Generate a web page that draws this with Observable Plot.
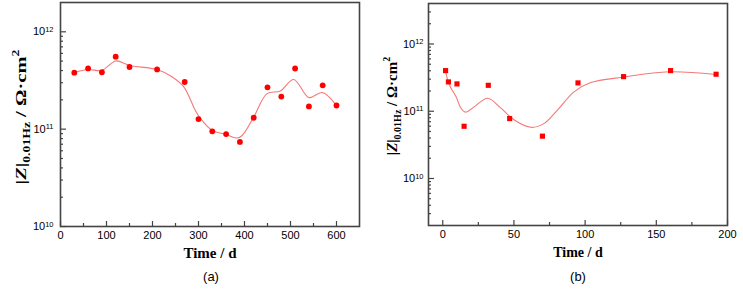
<!DOCTYPE html>
<html>
<head>
<meta charset="utf-8">
<script src="https://cdn.jsdelivr.net/npm/d3@7"></script>
<script src="https://cdn.jsdelivr.net/npm/@observablehq/plot@0.6"></script>
<style>
  html, body { margin: 0; padding: 0; background: #fff; }
  #wrap { position: relative; width: 743px; height: 289px; background: #fff; overflow: hidden; }
  .panel { position: absolute; top: 0; }
  .lab { position: absolute; white-space: nowrap; transform: translate(-50%, -50%); color: #000; }
  .xl { font-family: "Liberation Serif", "Times New Roman", serif; font-weight: bold; }
  .cap { font-family: "Liberation Sans", Arial, sans-serif; font-size: 13px; }
  .yl { font-family: "Liberation Serif", "Times New Roman", serif; font-weight: bold; font-size: 15px; }
  .yl .sb { font-size: 10px; vertical-align: -4px; }
  .yl .sp { font-size: 10px; vertical-align: 7px; }
</style>
</head>
<body>
<div id="wrap">
  <div id="pa" class="panel" style="left:0px"></div>
  <div id="pb" class="panel" style="left:370px"></div>
  <div class="lab xl" style="left:210px;top:253px;font-size:15px">Time / d</div>
  <div class="lab cap" style="left:211px;top:276px">(a)</div>
  <div class="lab xl" style="left:578px;top:253px;font-size:14px">Time / d</div>
  <div class="lab cap" style="left:578px;top:276px">(b)</div>
  <div class="lab yl" style="left:21px;top:117px;transform:translate(-50%,-50%) rotate(-90deg) scaleX(1.37)">|<i>Z</i>|<span class="sb">0.01Hz</span> / Ω·cm<span class="sp">2</span></div>
  <div class="lab yl" style="left:392px;top:106px;transform:translate(-50%,-50%) rotate(-90deg)">|<i>Z</i>|<span class="sb">0.01Hz</span> / Ω·cm<span class="sp">2</span></div>
</div>
<script>
// Panel (a): measured points
const aDays = [30, 60, 90, 120, 150, 210, 270, 300, 330, 360, 390, 420, 450, 480, 510, 540, 570, 600];
const aZ = [3.80e11, 4.21e11, 3.84e11, 5.55e11, 4.35e11, 4.11e11, 3.05e11, 1.27e11, 9.5e10, 8.9e10, 7.4e10, 1.31e11, 2.69e11, 2.16e11, 4.2e11, 1.71e11, 2.82e11, 1.75e11];
// Panel (a): smoothed curve
const aFitDays = [30, 60, 90, 120, 150, 210, 243, 268, 293, 304, 330, 359, 384, 395, 420, 449, 478, 507, 540, 569, 598];
const aFitZ = [3.82e11, 4.10e11, 4.01e11, 5.02e11, 4.51e11, 4.10e11, 3.44e11, 2.72e11, 1.56e11, 1.29e11, 9.7e10, 8.85e10, 8.1e10, 8.6e10, 1.33e11, 2.32e11, 2.47e11, 3.24e11, 2.11e11, 2.38e11, 1.80e11];

// Panel (b): measured points
const bDays = [2, 4, 10, 15, 32, 47, 70, 95, 127, 160, 192];
const bZ = [4.02e11, 2.73e11, 2.55e11, 5.98e10, 2.43e11, 7.78e10, 4.26e10, 2.64e11, 3.27e11, 4.02e11, 3.55e11];
// Panel (b): smoothed curve
const bFitDays = [2, 4.6, 9.3, 12.8, 15.9, 22.2, 31.6, 40.9, 50.3, 62, 71.3, 80.7, 92.4, 104, 126.3, 159, 191.8];
const bFitZ = [3.9e11, 2.47e11, 1.65e11, 1.11e11, 9.7e10, 1.17e11, 1.56e11, 1.11e11, 7.4e10, 5.77e10, 6.6e10, 1.05e11, 1.96e11, 2.67e11, 3.21e11, 3.86e11, 3.52e11];

// Axes
const aXMajor = [0, 100, 200, 300, 400, 500, 600];
const aXMinor = [50, 150, 250, 350, 450, 550];
const bXMajor = [0, 50, 100, 150, 200];
const bXMinor = [25, 75, 125, 175];
const aYMajor = [1e10, 1e11, 1e12];
const bYMajor = [1e10, 1e11, 1e12];
const mult = [2, 3, 4, 5, 6, 7, 8, 9];
const aYMinor = [1e10, 1e11].flatMap(d => mult.map(m => m * d));
const bYMinor = [1e9, 1e10, 1e11, 1e12].flatMap(d => mult.map(m => m * d)).filter(v => v > 2.05e9 && v < 3.95e12);

const frameColor = "#444";
const ptColor = "#ff0000";
const fitColor = "#f47878";

const aPts = aDays.map((d, i) => ({t: d, z: aZ[i]}));
const aFit = aFitDays.map((d, i) => ({t: d, z: aFitZ[i]}));
const bPts = bDays.map((d, i) => ({t: d, z: bZ[i]}));
const bFit = bFitDays.map((d, i) => ({t: d, z: bFitZ[i]}));

const expFmt = d => "10^" + Math.round(Math.log10(d));

function panel({width, ml, mr, mt, mb, xdom, ydom, xMaj, xMin, yMaj, yMin, pts, fit, symbol, r, pad}) {
  return Plot.plot({
    width, height: 289,
    marginLeft: ml, marginRight: mr, marginTop: mt, marginBottom: mb,
    x: {domain: xdom, label: null},
    y: {type: "log", domain: ydom, label: null},
    style: {fontFamily: "'Liberation Sans', Arial, sans-serif", fontSize: "11px", color: "#000", background: "#fff"},
    marks: [
      Plot.line(fit, {x: "t", y: "z", curve: "catmull-rom", stroke: fitColor, strokeWidth: 1.1}),
      Plot.dot(pts, {x: "t", y: "z", symbol, r, fill: ptColor, stroke: "none"}),
      Plot.axisX(xMaj, {tickSize: -5, text: null, label: null, stroke: frameColor, strokeWidth: 1.2}),
      Plot.axisX(xMin, {tickSize: -3, text: null, label: null, stroke: frameColor, strokeWidth: 1.2}),
      Plot.axisX(xMaj, {tickSize: 0, tickPadding: 5, label: null, tickFormat: d => String(d)}),
      Plot.axisY(yMaj, {tickSize: -6, text: null, label: null, stroke: frameColor, strokeWidth: 1.2}),
      Plot.axisY(yMin, {tickSize: -3, text: null, label: null, stroke: frameColor, strokeWidth: 1.2}),
      Plot.axisY(yMaj, {tickSize: 0, tickPadding: pad, label: null, tickFormat: expFmt}),
      Plot.frame({stroke: frameColor, strokeWidth: 1.6})
    ]
  });
}

function supTicks(svg) {
  d3.select(svg).selectAll('g[aria-label="y-axis tick label"] text').each(function () {
    const t = this.textContent;
    if (!t.includes("^")) return;
    const [b, e] = t.split("^");
    this.textContent = b;
    d3.select(this).append("tspan").attr("dy", "-0.45em").attr("font-size", "7.5px").text(e);
  });
}

const A = panel({width: 370, ml: 60, mr: 11, mt: 2, mb: 63, xdom: [0, 650], ydom: [1e10, 2e12],
  xMaj: aXMajor, xMin: aXMinor, yMaj: aYMajor, yMin: aYMinor, pts: aPts, fit: aFit, symbol: "circle", r: 2.9, pad: 7});
supTicks(A);
document.getElementById("pa").appendChild(A);

const B = panel({width: 373, ml: 58, mr: 16, mt: 3, mb: 64, xdom: [-10, 200], ydom: [2e9, 4e12],
  xMaj: bXMajor, xMin: bXMinor, yMaj: bYMajor, yMin: bYMinor, pts: bPts, fit: bFit, symbol: "square", r: 2.9, pad: 5});
supTicks(B);
document.getElementById("pb").appendChild(B);
</script>
</body>
</html>
